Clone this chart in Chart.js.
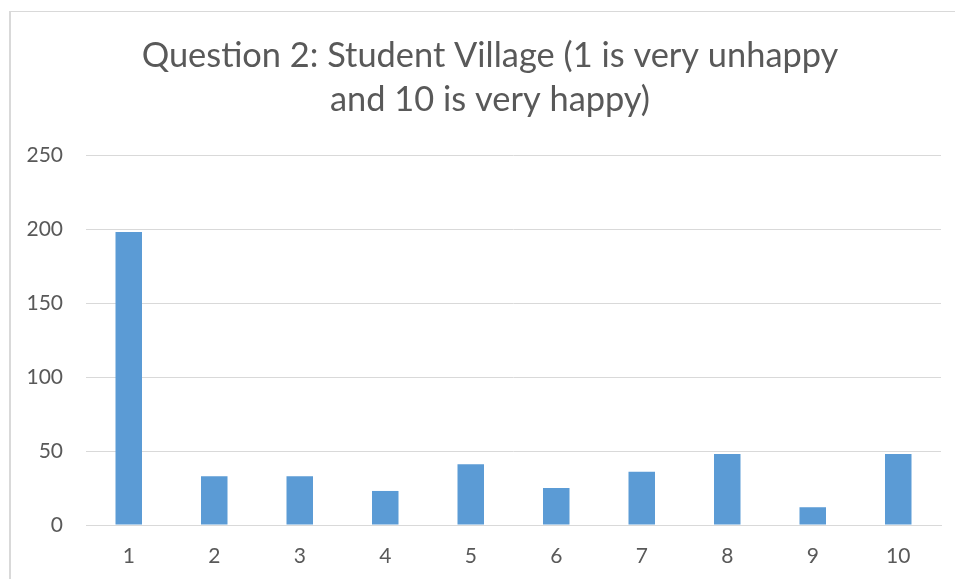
<!DOCTYPE html>
<html>
<head>
<meta charset="utf-8">
<script src="https://cdn.jsdelivr.net/npm/chart.js@4/dist/chart.umd.min.js"></script>
<style>
  html, body { margin: 0; padding: 0; background: #fff; overflow: hidden; }
  #wrap { position: relative; width: 955px; height: 579px; overflow: hidden; }
  #frame { position: absolute; left: 9px; top: 11px; width: 1000px; height: 620px; border-left: 2px solid #d9d9d9; border-top: 1px solid #d9d9d9; box-sizing: border-box; }
  canvas { position: absolute; left: 0; top: 0; }
</style>
</head>
<body>
<div id="wrap">
  <div id="frame"></div>
  <canvas id="c" width="955" height="579"></canvas>
</div>
<script>
const titleLines = ["Question 2: Student Village (1 is very unhappy", "and 10 is very happy)"];
const categories = ["1", "2", "3", "4", "5", "6", "7", "8", "9", "10"];
const values = [198, 33, 33, 23, 41, 25, 36, 48, 12, 48];
const yTicks = [0, 50, 100, 150, 200, 250];

const FONT = "Lato, 'Liberation Sans', sans-serif";
const TEXT = "#595959";

new Chart(document.getElementById('c'), {
  type: 'bar',
  data: {
    labels: categories,
    datasets: [{
      data: values,
      backgroundColor: '#5B9BD5',
      borderWidth: 0,
      categoryPercentage: 1.0,
      barPercentage: 0.31
    }]
  },
  options: {
    responsive: false,
    animation: false,
    devicePixelRatio: 1,
    layout: { padding: { left: 39, right: 14, top: 0, bottom: 0 } },
    plugins: {
      legend: { display: false },
      tooltip: { enabled: false },
      title: {
        display: true,
        text: titleLines,
        color: TEXT,
        font: { family: FONT, size: 34.4, weight: 'normal', lineHeight: '44px' },
        padding: { top: 34, bottom: 33 }
      }
    },
    scales: {
      x: {
        grid: { display: false, drawTicks: false },
        border: { display: true, color: '#d9d9d9', width: 1 },
        ticks: { color: TEXT, font: { family: FONT, size: 21 }, padding: 19, maxRotation: 0 },
        afterFit: (s) => { s.height = 54; }
      },
      y: {
        min: 0,
        max: 250,
        afterBuildTicks: (s) => { s.ticks = yTicks.map(v => ({ value: v })); },
        grid: { color: '#d9d9d9', lineWidth: 1, drawTicks: false },
        border: { display: false },
        ticks: { color: TEXT, font: { family: FONT, size: 21 }, padding: 23 },
        afterFit: (s) => { s.width = 47; s._computeLabelArea = () => null; }
      }
    }
  }
});
</script>
</body>
</html>
